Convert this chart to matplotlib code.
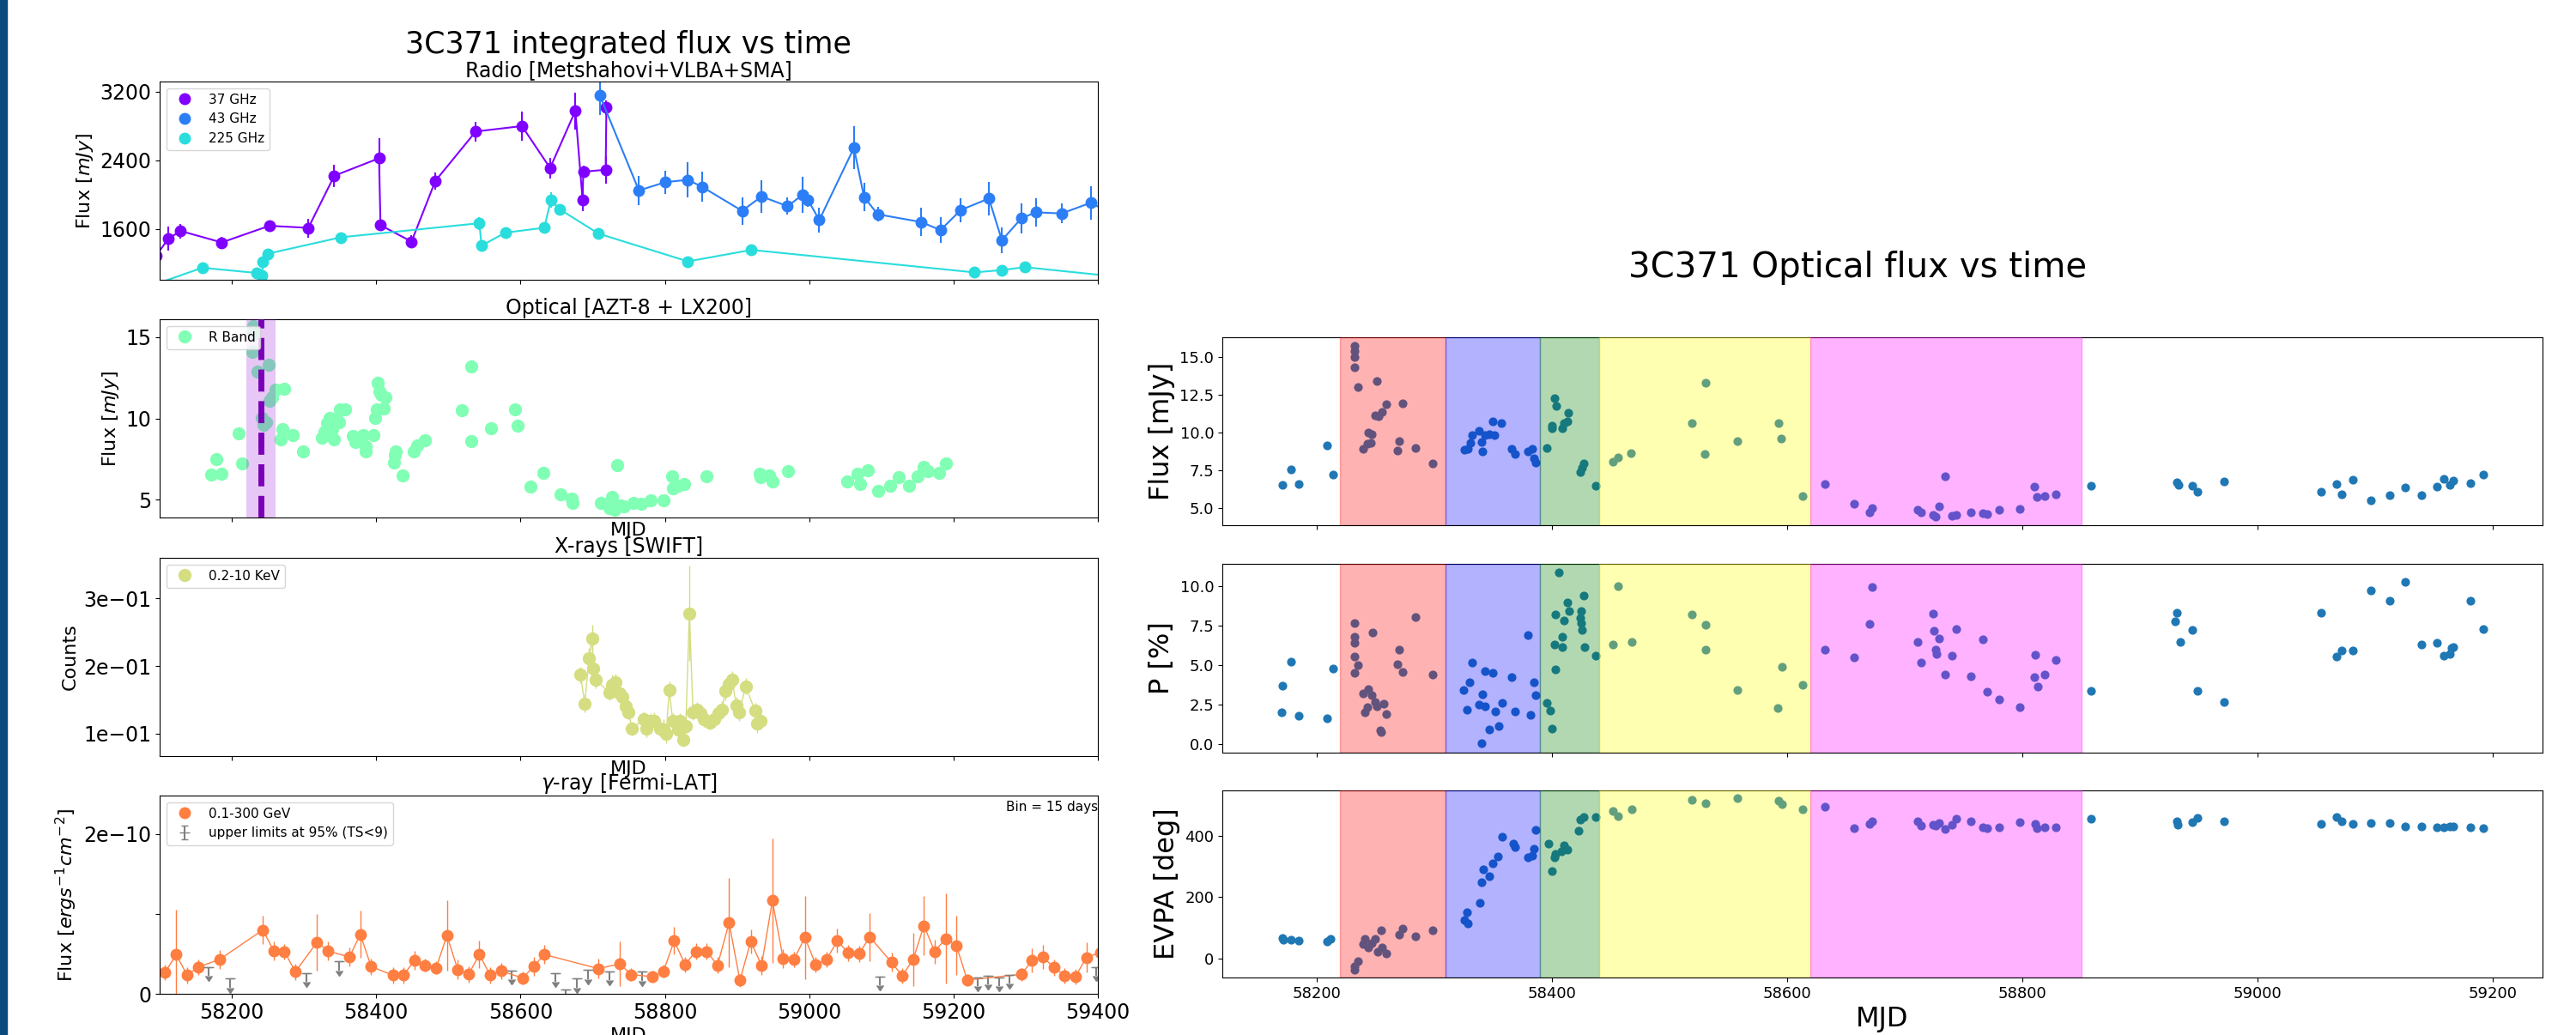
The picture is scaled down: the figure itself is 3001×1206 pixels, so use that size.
import numpy as np
import matplotlib.pyplot as plt
from matplotlib.patches import Rectangle
from matplotlib.ticker import FuncFormatter

# colours taken from the rainbow colormap
cols = plt.cm.rainbow([0, 1/6, 2/6, 3/6, 4/6, 5/6])

# ---------------- left figure data ----------------
r37_mjd = [58095, 58112, 58129, 58186, 58252, 58306, 58342, 58404, 58406, 58449, 58482,
           58538, 58602, 58641, 58676, 58686, 58687, 58718, 58719]
r37_flux = [1290, 1488, 1579, 1445, 1639, 1615, 2222, 2426, 1646, 1455, 2162,
            2738, 2801, 2312, 2979, 1940, 2269, 2292, 3019]
r37_err = [80, 140, 85, 65, 65, 110, 130, 235, 65, 75, 100,
           117, 167, 117, 214, 134, 67, 160, 84]

r43_mjd = [58710, 58764, 58801, 58832, 58852, 58907, 58934, 58970, 58991, 58998, 59014,
           59062, 59076, 59095, 59155, 59182, 59210, 59249, 59267, 59294, 59314, 59350,
           59390, 59420]
r43_flux = [3156, 2051, 2148, 2175, 2091, 1813, 1981, 1867, 2001, 1944, 1706,
            2547, 1974, 1773, 1683, 1589, 1823, 1957, 1471, 1726, 1796, 1783,
            1907, 1780]
r43_err = [225, 167, 134, 209, 175, 159, 192, 100, 209, 84, 142,
           251, 167, 84, 167, 151, 142, 192, 151, 176, 167, 117,
           192, 150]

r225_mjd = [58080, 58159, 58234, 58242, 58243, 58250, 58351, 58543, 58546, 58579, 58633,
            58642, 58654, 58708, 58832, 58920, 59229, 59267, 59299, 59450]
r225_flux = [916, 1150, 1090, 1063, 1224, 1314, 1505, 1669, 1408, 1559, 1616,
             1940, 1833, 1548, 1224, 1358, 1096, 1123, 1157, 1026]
r225_err = [40, 40, 35, 35, 40, 40, 45, 75, 40, 40, 45,
            92, 50, 45, 40, 40, 35, 35, 40, 40]

opt_mjd = [58171, 58178, 58186, 58210, 58214, 58230, 58230, 58229, 58235, 58251,
           58242, 58244, 58248, 58252, 58256, 58260, 58273, 58270, 58268, 58284,
           58299, 58325, 58328, 58332, 58336, 58339, 58342, 58345, 58348, 58350,
           58357, 58368, 58371, 58382, 58386, 58386, 58396, 58399, 58401, 58402,
           58404, 58407, 58410, 58413, 58425, 58426, 58427, 58437, 58452, 58457,
           58467, 58519, 58532, 58532, 58559, 58592, 58596, 58614, 58632, 58656,
           58671, 58672, 58734, 58711, 58727, 58723, 58730, 58739, 58744, 58757,
           58767, 58780, 58798, 58810, 58811, 58818, 58827, 58858, 58931, 58933,
           58944, 58949, 58971, 59053, 59067, 59071, 59081, 59095, 59112, 59124,
           59138, 59150, 59158, 59164, 59180, 59190]
opt_flux = [6.56, 7.48, 6.6, 9.09, 7.21, 15.7, 15.18, 14.1, 12.9, 13.3,
            10.04, 9.6, 9.78, 11.1, 11.28, 11.78, 11.8, 9.34, 8.72, 8.98,
            7.96, 8.8, 9.16, 9.73, 10.04, 9.34, 8.72, 9.96, 9.78, 10.58,
            10.54, 8.9, 8.54, 8.98, 8.27, 7.99, 8.98, 10.04, 10.58, 12.17,
            11.64, 11.46, 10.6, 11.28, 7.3, 7.74, 7.99, 6.49, 7.99, 8.36,
            8.63, 10.52, 13.18, 8.59, 9.39, 10.58, 9.55, 5.8, 6.63, 5.32,
            5.05, 4.82, 7.12, 4.82, 5.18, 4.47, 4.38, 4.65, 4.58, 4.82,
            4.73, 4.95, 4.98, 6.42, 5.71, 5.85, 5.94, 6.45, 6.57, 6.4,
            6.5, 6.11, 6.73, 6.1, 6.6, 5.94, 6.82, 5.53, 5.85, 6.38,
            5.85, 6.42, 7.0, 6.73, 6.65, 7.21]

xr_mjd = [58683, 58689, 58695, 58699, 58701, 58704, 58723, 58727, 58731, 58737, 58741,
          58746, 58750, 58754, 58771, 58774, 58780, 58785, 58793, 58798, 58802, 58806,
          58811, 58818, 58821, 58826, 58829, 58834, 58839, 58844, 58849, 58854, 58862,
          58868, 58874, 58879, 58884, 58889, 58893, 58899, 58903, 58912, 58925, 58928,
          58933]
xr_cts = [0.187, 0.145, 0.212, 0.241, 0.197, 0.180, 0.161, 0.172, 0.176, 0.159, 0.155,
          0.140, 0.132, 0.108, 0.121, 0.107, 0.119, 0.119, 0.108, 0.106, 0.100, 0.165,
          0.119, 0.106, 0.119, 0.091, 0.111, 0.278, 0.132, 0.136, 0.130, 0.121, 0.117,
          0.121, 0.130, 0.136, 0.163, 0.174, 0.180, 0.142, 0.132, 0.170, 0.134, 0.115,
          0.119]
xr_err = [0.012, 0.013, 0.015, 0.020, 0.015, 0.013, 0.012, 0.015, 0.013, 0.012, 0.012,
          0.012, 0.011, 0.010, 0.012, 0.012, 0.012, 0.013, 0.012, 0.015, 0.014, 0.012,
          0.012, 0.011, 0.011, 0.010, 0.011, 0.070, 0.012, 0.011, 0.012, 0.011, 0.011,
          0.011, 0.012, 0.012, 0.013, 0.013, 0.012, 0.013, 0.013, 0.012, 0.012, 0.014,
          0.013]

gam_mjd = [58107.5, 58123, 58138, 58153, 58183, 58243, 58258, 58273, 58288, 58318,
           58333, 58363, 58378, 58393, 58423, 58438, 58453, 58468, 58483, 58498,
           58513, 58528, 58543, 58558, 58573, 58603, 58618, 58633, 58708, 58738,
           58753, 58783, 58798, 58813, 58828, 58843, 58858, 58873, 58889, 58904,
           58919, 58934, 58949, 58964, 58979, 58994, 59009, 59024, 59039, 59054,
           59069, 59084, 59114, 59129, 59144, 59159, 59174, 59189, 59204, 59219,
           59294, 59309, 59324, 59339, 59354, 59369, 59384, 59404]
gam_flux = np.array([2.69, 4.91, 2.33, 3.33, 4.30, 7.99, 5.38, 5.27, 2.76, 6.45,
                     5.38, 4.59, 7.46, 3.41, 2.33, 2.33, 4.19, 3.58, 3.23, 7.28,
                     3.05, 2.44, 4.91, 2.33, 2.87, 1.97, 3.41, 4.91, 3.15, 3.76,
                     2.40, 2.15, 2.80, 6.63, 3.66, 5.30, 5.30, 3.58, 8.89, 1.68,
                     6.56, 3.55, 11.65, 4.37, 4.30, 7.06, 3.66, 4.30, 6.63, 5.13,
                     5.02, 7.10, 3.94, 2.26, 4.30, 8.53, 5.27, 6.92, 6.02, 1.72,
                     2.44, 4.19, 4.59, 3.30, 2.26, 2.15, 4.55, 5.2]) * 1e-11
gam_err = np.array([1.0, 5.6, 1.0, 1.0, 1.2, 1.8, 1.2, 1.0, 1.0, 3.5,
                    1.2, 1.2, 3.0, 1.0, 1.0, 1.0, 1.2, 0.8, 0.8, 4.4,
                    1.2, 1.0, 1.7, 1.0, 1.0, 0.8, 1.2, 1.2, 1.2, 2.8,
                    0.8, 0.8, 0.8, 1.7, 1.0, 1.0, 1.0, 1.0, 5.6, 0.8,
                    1.5, 1.2, 7.8, 1.2, 1.0, 5.2, 1.0, 1.0, 1.5, 1.0,
                    1.0, 3.0, 1.2, 1.0, 3.3, 3.7, 1.5, 5.6, 3.7, 0.8,
                    0.8, 1.5, 1.5, 1.0, 1.0, 1.0, 1.9, 1.0]) * 1e-11

ul_mjd = [58168, 58198, 58303, 58348, 58588, 58648, 58663, 58678, 58693, 58723,
          58768, 59098, 59233, 59248, 59263, 59278, 59398]
ul_flux = np.array([3.33, 1.90, 2.58, 4.05, 2.94, 2.58, 0.54, 1.90, 2.97, 2.80,
                    2.76, 2.15, 2.04, 2.29, 2.04, 2.40, 3.33]) * 1e-11

# ---------------- right figure data ----------------
flux_mjd = [58171, 58178, 58185, 58209, 58214, 58232, 58232, 58232, 58232, 58235,
            58251, 58240, 58243, 58246, 58244, 58247, 58250, 58253, 58256, 58259,
            58273, 58270, 58269, 58284, 58299, 58326, 58329, 58331, 58332, 58338,
            58340, 58341, 58343, 58347, 58351, 58350, 58357, 58366, 58369, 58380,
            58383, 58385, 58386, 58396, 58400, 58400, 58402, 58404, 58409, 58410,
            58413, 58414, 58424, 58426, 58427, 58437, 58452, 58456, 58467, 58519,
            58531, 58530, 58558, 58593, 58595, 58613, 58632, 58657, 58670, 58672,
            58711, 58714, 58724, 58726, 58729, 58734, 58740, 58744, 58756, 58766,
            58770, 58780, 58798, 58810, 58812, 58819, 58828, 58858, 58931, 58933,
            58944, 58949, 58971, 59054, 59067, 59071, 59081, 59096, 59112, 59125,
            59139, 59152, 59158, 59163, 59166, 59181, 59192]
flux_val = [6.55, 7.55, 6.6, 9.15, 7.23, 15.74, 15.36, 15.0, 14.28, 12.98,
            13.4, 8.9, 9.28, 9.3, 10.0, 9.9, 11.13, 11.05, 11.35, 11.85,
            11.9, 9.43, 8.8, 9.0, 7.96, 8.85, 8.9, 9.32, 9.8, 10.1,
            9.36, 8.77, 9.85, 9.9, 9.8, 10.72, 10.6, 8.9, 8.57, 8.74,
            8.94, 8.3, 8.02, 9.0, 10.25, 10.43, 12.26, 11.74, 10.26, 10.6,
            10.75, 11.3, 7.4, 7.68, 7.96, 6.5, 8.06, 8.34, 8.62, 10.6,
            13.26, 8.6, 9.43, 10.62, 9.62, 5.8, 6.62, 5.3, 4.75, 5.04,
            4.89, 4.74, 4.57, 4.42, 5.11, 7.11, 4.49, 4.57, 4.74, 4.7,
            4.64, 4.92, 4.98, 6.4, 5.77, 5.83, 5.92, 6.49, 6.7, 6.55,
            6.5, 6.1, 6.77, 6.1, 6.57, 5.94, 6.89, 5.55, 5.89, 6.38,
            5.89, 6.42, 6.96, 6.55, 6.83, 6.64, 7.23]

pol_mjd = [58171, 58170, 58178, 58185, 58209, 58214, 58232, 58232, 58232, 58232,
           58235, 58232, 58240, 58244, 58247, 58241, 58243, 58250, 58251, 58257,
           58259, 58254, 58255, 58248, 58270, 58269, 58273, 58284, 58299, 58325,
           58328, 58330, 58332, 58338, 58341, 58340, 58343, 58343, 58350, 58347,
           58352, 58355, 58358, 58366, 58369, 58380, 58382, 58385, 58386, 58396,
           58399, 58400, 58403, 58403, 58402, 58406, 58409, 58409, 58410, 58413,
           58415, 58425, 58424, 58425, 58426, 58427, 58428, 58437, 58452, 58456,
           58468, 58519, 58531, 58531, 58558, 58592, 58596, 58613, 58632, 58657,
           58670, 58672, 58711, 58714, 58724, 58725, 58726, 58727, 58729, 58734,
           58740, 58744, 58756, 58766, 58770, 58780, 58798, 58811, 58810, 58813,
           58819, 58828, 58858, 58931, 58930, 58934, 58944, 58949, 58971, 59054,
           59067, 59071, 59081, 59096, 59112, 59125, 59139, 59152, 59158, 59163,
           59166, 59165, 59181, 59192]
pol_val = [3.68, 2.04, 5.2, 1.82, 1.66, 4.77, 7.65, 6.77, 6.43, 5.56,
           4.98, 4.51, 3.23, 3.47, 3.1, 2.02, 2.33, 2.65, 2.42, 2.56,
           1.9, 0.9, 0.76, 7.08, 5.96, 5.07, 4.55, 8.05, 4.42, 3.45,
           2.17, 3.93, 5.14, 2.49, 3.16, 0.05, 2.38, 4.62, 4.5, 0.94,
           2.06, 1.16, 2.62, 4.24, 2.09, 6.9, 1.86, 3.92, 3.1, 2.64,
           2.11, 0.99, 4.75, 8.21, 6.3, 10.87, 6.14, 6.79, 7.8, 8.95,
           8.39, 8.39, 7.98, 7.65, 7.2, 9.37, 6.16, 5.61, 6.32, 9.98,
           6.48, 8.18, 7.55, 5.99, 3.45, 2.31, 4.91, 3.75, 5.96, 5.49,
           7.6, 9.91, 6.48, 5.18, 8.23, 7.17, 5.97, 5.69, 6.7, 4.4,
           5.61, 7.27, 4.3, 6.62, 3.3, 2.82, 2.36, 5.63, 4.26, 3.66,
           4.4, 5.34, 3.36, 8.32, 7.76, 6.46, 7.22, 3.38, 2.67, 8.3,
           5.56, 5.9, 5.92, 9.73, 9.06, 10.27, 6.32, 6.43, 5.58, 5.7,
           6.14, 6.08, 9.04, 7.26]

evpa_mjd = [58171, 58172, 58178, 58185, 58209, 58212, 58232, 58232, 58235, 58240,
            58241, 58244, 58247, 58250, 58252, 58255, 58259, 58256, 58270, 58273,
            58284, 58299, 58326, 58329, 58328, 58339, 58340, 58342, 58347, 58350,
            58354, 58358, 58367, 58369, 58380, 58383, 58385, 58386, 58397, 58400,
            58403, 58402, 58408, 58410, 58413, 58423, 58424, 58427, 58437, 58452,
            58456, 58468, 58519, 58531, 58558, 58593, 58596, 58613, 58632, 58657,
            58670, 58672, 58711, 58714, 58724, 58726, 58729, 58734, 58740, 58744,
            58756, 58766, 58770, 58780, 58798, 58811, 58812, 58819, 58828, 58858,
            58931, 58932, 58944, 58949, 58971, 59054, 59067, 59071, 59081, 59096,
            59112, 59125, 59139, 59152, 59158, 59163, 59166, 59181, 59192]
evpa_val = [67, 61, 60, 58, 56, 63, -37, -26, -10, 47,
            64, 36, 51, 64, 21, 93, 15, 36, 77, 98,
            73, 93, 126, 114, 150, 180, 248, 292, 269, 310,
            334, 397, 374, 364, 329, 335, 358, 421, 374, 285,
            341, 330, 350, 369, 355, 418, 453, 461, 461, 481,
            465, 486, 519, 506, 523, 516, 505, 488, 494, 425,
            439, 449, 447, 435, 436, 435, 441, 422, 436, 455,
            447, 427, 425, 427, 446, 439, 425, 427, 427, 456,
            447, 436, 444, 458, 449, 439, 461, 447, 439, 441,
            441, 432, 430, 428, 428, 432, 432, 428, 425]

band_edges = [58220, 58310, 58390, 58440, 58620, 58850]
band_cols = ['red', 'blue', 'green', 'yellow', 'magenta']

W, H = 3001, 1206
fig = plt.figure(figsize=(W / 100, H / 100), dpi=100)

def box(x0, y0, x1, y1):
    return [x0 / W, 1 - y1 / H, (x1 - x0) / W, (y1 - y0) / H]

sci = FuncFormatter(lambda v, p: '0' if v == 0 else f'{v:.0e}'.replace('-', '\u2212'))

ax1 = fig.add_axes(box(186, 95, 1279, 326))
ax2 = fig.add_axes(box(186, 372, 1279, 603), sharex=ax1)
ax3 = fig.add_axes(box(186, 650, 1279, 881), sharex=ax1)
ax4 = fig.add_axes(box(186, 927, 1279, 1158), sharex=ax1)

# Radio
ax1.errorbar(r37_mjd, r37_flux, yerr=r37_err, color=cols[0], lw=1.5)
ax1.plot(r37_mjd, r37_flux, 'o', ms=9, color=cols[0], label='37 GHz')
ax1.errorbar(r43_mjd, r43_flux, yerr=r43_err, color=cols[1], lw=1.5)
ax1.plot(r43_mjd, r43_flux, 'o', ms=9, color=cols[1], label='43 GHz')
ax1.errorbar(r225_mjd, r225_flux, yerr=r225_err, color=cols[2], lw=1.5)
ax1.plot(r225_mjd, r225_flux, 'o', ms=9, color=cols[2], label='225 GHz')
ax1.set_ylim(1010, 3320)
ax1.set_yticks([1600, 2400, 3200])
ax1.set_ylabel('Flux [$mJy$]', fontsize=16)
ax1.set_title('Radio [Metshahovi+VLBA+SMA]', fontsize=17, pad=4)
ax1.legend(loc='upper left', fontsize=11)

# Optical
ax2.plot(opt_mjd, opt_flux, 'o', ms=10, color=cols[3], label='R Band')
ax2.axvspan(58220, 58260, color='darkviolet', alpha=0.22, lw=0, zorder=3)
ax2.axvline(58240, color='#7a00b8', ls='--', lw=5, zorder=4)
ax2.set_ylim(3.9, 16.1)
ax2.set_yticks([5, 10, 15])
ax2.set_ylabel('Flux [$mJy$]', fontsize=16)
ax2.set_xlabel('MJD', fontsize=16, labelpad=0)
ax2.set_title('Optical [AZT-8 + LX200]', fontsize=17, pad=4)
ax2.legend(loc='upper left', fontsize=11)

# X-rays
ax3.errorbar(xr_mjd, xr_cts, yerr=xr_err, color=cols[4], lw=1)
ax3.plot(xr_mjd, xr_cts, 'o', ms=10, color=cols[4], label='0.2-10 KeV')
ax3.set_ylim(0.067, 0.36)
ax3.set_yticks([0.1, 0.2, 0.3])
ax3.yaxis.set_major_formatter(sci)
ax3.set_ylabel('Counts', fontsize=16)
ax3.set_xlabel('MJD', fontsize=16, labelpad=0)
ax3.set_title('X-rays [SWIFT]', fontsize=17, pad=4)
ax3.legend(loc='upper left', fontsize=11)

# gamma
ax4.errorbar(gam_mjd, gam_flux, yerr=gam_err, color=cols[5], lw=1)
ax4.plot(gam_mjd, gam_flux, 'o', ms=9, color=cols[5], label='0.1-300 GeV')
ax4.errorbar(ul_mjd, ul_flux, yerr=1.1e-11, uplims=True, fmt='_', color='grey',
             ms=8, capsize=3, label='upper limits at 95% (TS<9)')
ax4.set_ylim(0, 2.48e-10)
ax4.set_yticks([0, 1e-10, 2e-10])
ax4.yaxis.set_major_formatter(FuncFormatter(lambda v, p: '' if abs(v - 1e-10) < 1e-12 else sci(v, p)))
ax4.set_xlim(58100, 59400)
ax4.set_xticks(range(58200, 59401, 200))
ax4.set_ylabel('Flux [$ergs^{-1}cm^{-2}$]', fontsize=16)
ax4.set_xlabel('MJD', fontsize=16)
ax4.set_title(r'$\gamma$-ray [Fermi-LAT]', fontsize=17, pad=4)
ax4.text(1.0, 0.94, 'Bin = 15 days', transform=ax4.transAxes, ha='right', va='center', fontsize=11)
ax4.legend(loc='upper left', fontsize=11)

for a in [ax1, ax2, ax3]:
    a.tick_params(labelbottom=False)
for a in [ax1, ax2, ax3, ax4]:
    a.tick_params(labelsize=17)

fig.text(732 / W, 1 - 52 / H, '3C371 integrated flux vs time', fontsize=25, ha='center', va='center')

# ---------------- right figure ----------------
bx1 = fig.add_axes(box(1424, 393, 2962, 612))
bx2 = fig.add_axes(box(1424, 657, 2962, 877), sharex=bx1)
bx3 = fig.add_axes(box(1424, 921, 2962, 1139), sharex=bx1)

bx1.scatter(flux_mjd, flux_val, s=40, color='#1f77b4', zorder=2)
bx2.scatter(pol_mjd, pol_val, s=40, color='#1f77b4', zorder=2)
bx3.scatter(evpa_mjd, evpa_val, s=40, color='#1f77b4', zorder=2)

for a in [bx1, bx2, bx3]:
    for i in range(len(band_cols)):
        a.axvspan(band_edges[i], band_edges[i + 1], color=band_cols[i], alpha=0.3, zorder=3)
    a.tick_params(labelsize=13)

bx1.set_ylim(3.88, 16.28)
bx1.set_yticks([5.0, 7.5, 10.0, 12.5, 15.0])
bx2.set_ylim(-0.52, 11.39)
bx2.set_yticks([0.0, 2.5, 5.0, 7.5, 10.0])
bx3.set_ylim(-62.5, 548.6)
bx3.set_yticks([0, 200, 400])
bx3.set_xlim(58120, 59242)
bx1.tick_params(labelbottom=False)
bx2.tick_params(labelbottom=False)
bx1.set_ylabel('Flux [mJy]', fontsize=23)
bx2.set_ylabel('P [%]', fontsize=23)
bx3.set_ylabel('EVPA [deg]', fontsize=23)
bx3.set_xlabel('MJD', fontsize=23)

fig.text(2164 / W, 1 - 312 / H, '3C371 Optical flux vs time', fontsize=29, ha='center', va='center')

# dark strip at the left edge
fig.patches.append(Rectangle((0, 0), 8 / W, 1, transform=fig.transFigure, color='#0b4a7d'))

fig.savefig('out.png', dpi=100)
